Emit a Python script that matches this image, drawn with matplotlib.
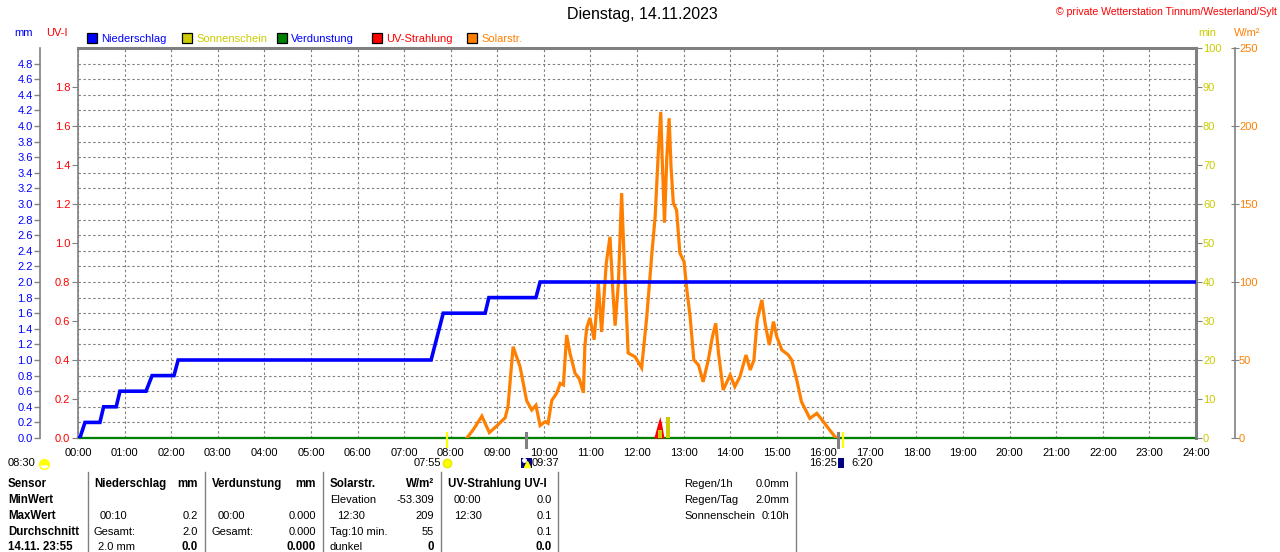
import matplotlib
matplotlib.use("Agg")
import matplotlib.pyplot as plt
from matplotlib.patches import Rectangle
from matplotlib.markers import MarkerStyle

plt.rcParams['font.family'] = ['Liberation Sans', 'DejaVu Sans']

# ---------------- data ----------------
hours = list(range(0, 25))
hour_labels = [f"{h:02d}:00" for h in hours]

precip_time = [0, 0.04, 0.15, 0.47, 0.55, 0.82, 0.90, 1.46, 1.59, 2.06, 2.15,
               7.58, 7.84, 8.74, 8.82, 9.83, 9.92, 24]
precip_mm = [0, 0, 0.2, 0.2, 0.4, 0.4, 0.6, 0.6, 0.8, 0.8, 1.0,
             1.0, 1.6, 1.6, 1.8, 1.8, 2.0, 2.0]

solar_time = [8.35, 8.50, 8.67, 8.83, 9.00, 9.17, 9.23, 9.34, 9.49, 9.63, 9.74,
              9.83, 9.92, 10.03, 10.09, 10.17, 10.28, 10.35, 10.42, 10.49, 10.56,
              10.67, 10.76, 10.85, 10.88, 10.92, 10.99, 11.08, 11.13, 11.17, 11.24,
              11.34, 11.42, 11.48, 11.53, 11.60, 11.67, 11.73, 11.81, 11.96, 12.10,
              12.21, 12.32, 12.39, 12.46, 12.51, 12.54, 12.59, 12.64, 12.69, 12.73,
              12.78, 12.85, 12.92, 13.01, 13.07, 13.14, 13.22, 13.32, 13.42, 13.53,
              13.62, 13.69, 13.75, 13.85, 14.00, 14.10, 14.21, 14.34, 14.43, 14.51,
              14.58, 14.68, 14.75, 14.84, 14.93, 15.00, 15.11, 15.25, 15.32, 15.43,
              15.53, 15.71, 15.86, 16.00, 16.14, 16.25, 16.30]
solar_w = [0, 6, 14, 3.5, 8, 13, 20, 58.5, 45.7, 24, 18,
           21, 8, 10.5, 9.4, 24, 29, 35, 34, 66, 54.5,
           41.5, 38, 29, 58.5, 70.5, 77, 63, 82, 99, 68,
           112, 129, 95, 72, 99, 157, 110, 54.5, 52, 45,
           77.8, 118.6, 142, 184.6, 209, 180, 138, 180, 205, 174,
           150.6, 146, 118.6, 113, 95, 77.8, 50, 46.8, 36, 50,
           65, 73.5, 54.3, 30.8, 40.4, 32.9, 39.3, 53.2, 43.6, 50,
           75.6, 88.5, 73.5, 59.6, 74.6, 65, 56.4, 53.2, 50, 37.2,
           23.3, 12.6, 15.8, 10.5, 5, 0.8, 0]

uv_time = [12.36, 12.44, 12.49, 12.53, 12.58]
uv_index = [0, 0.07, 0.11, 0.07, 0]

sun_time = [12.49, 12.67]
sun_min = [2.0, 5.5]

evap_time = [0, 24]
evap_mm = [0, 0]

sunrise = 7 + 55 / 60
moon_a = 9 + 37 / 60
moon_b = 16 + 19 / 60
sunset = 16 + 25 / 60

mm_ticks = [round(0.2 * i, 1) for i in range(25)]
uv_ticks = [round(0.2 * i, 1) for i in range(10)]
min_ticks = list(range(0, 101, 10))
w_ticks = list(range(0, 251, 50))

BLUE = '#0000FF'
ORANGE = '#FF8000'
RED = '#FF0000'
OLIVE = '#CCCC00'
GREEN = '#008000'
GRAY = '#808080'
NAVY = '#000080'

W, H = 1280, 552
fig = plt.figure(figsize=(12.8, 5.52), dpi=100)
fig.patch.set_facecolor('white')

L, R, T, B = 78, 1196, 48, 438
ax = fig.add_axes([L / W, (H - B) / H, (R - L) / W, (B - T) / H])
ax.spines['left'].set_position(('outward', 27.5))
ax.set_xlim(0, 24)
ax.set_ylim(0, 5)
ax.set_xticks(hours)
ax.set_xticklabels(hour_labels, fontsize=8)
ax.tick_params(axis='x', length=0, pad=7)
ax.set_yticks(mm_ticks)
ax.set_yticklabels([f"{v:.1f}" for v in mm_ticks], fontsize=8, color=BLUE)
ax.tick_params(axis='y', length=4, color=GRAY, pad=1, width=1)
for s in ['left', 'top', 'right', 'bottom']:
    ax.spines[s].set_color(GRAY)
ax.spines['left'].set_linewidth(1.2)
ax.spines['top'].set_linewidth(2.2)
ax.spines['right'].set_linewidth(2.2)
ax.spines['bottom'].set_linewidth(1.5)
ax.grid(True, color=GRAY, linestyle=(0, (2.2, 2.2)), linewidth=0.8)
ax.plot(evap_time, evap_mm, color=GREEN, lw=1.6, zorder=5, clip_on=False)

# UV axis (left, at plot border)
ax_uv = ax.twinx()
ax_uv.set_ylim(0, 2)
ax_uv.yaxis.tick_left()
ax_uv.set_yticks(uv_ticks)
ax_uv.set_yticklabels([f"{v:.1f}" for v in uv_ticks], fontsize=8, color=RED)
ax_uv.tick_params(axis='y', length=4.5, color=GRAY, pad=1)
for s in ['right', 'top', 'bottom']:
    ax_uv.spines[s].set_visible(False)
ax_uv.spines['left'].set_color(GRAY)
ax_uv.spines['left'].set_linewidth(1.2)
ax_uv.fill_between(uv_time, uv_index, color=RED, lw=0)

# sunshine minutes axis (right)
ax_min = ax.twinx()
ax_min.set_ylim(0, 100)
ax_min.set_yticks(min_ticks)
ax_min.set_yticklabels([str(v) for v in min_ticks], fontsize=8, color=OLIVE)
ax_min.tick_params(axis='y', length=4, color=GRAY, pad=1)
for s in ['left', 'top', 'bottom']:
    ax_min.spines[s].set_visible(False)
ax_min.spines['right'].set_color(GRAY)
ax_min.spines['right'].set_linewidth(1.2)
ax_min.bar(sun_time, sun_min, width=0.075, color=OLIVE, lw=0)

# solar radiation axis (far right)
ax_w = ax.twinx()
ax_w.spines['right'].set_position(('outward', 28))
ax_w.set_ylim(0, 250)
ax_w.set_yticks(w_ticks)
ax_w.set_yticklabels([str(v) for v in w_ticks], fontsize=8, color=ORANGE)
ax_w.tick_params(axis='y', length=6, direction='inout', color=GRAY, pad=0)
for s in ['left', 'top', 'bottom']:
    ax_w.spines[s].set_visible(False)
ax_w.spines['right'].set_color(GRAY)
ax_w.spines['right'].set_linewidth(1.2)
ax_w.plot(solar_time, solar_w, color=ORANGE, lw=2.3, solid_joinstyle='miter')

# precipitation on top
ax_p = ax.twinx()
ax_p.set_ylim(0, 5)
ax_p.set_yticks([])
for s in ax_p.spines.values():
    s.set_visible(False)
ax_p.plot(precip_time, precip_mm, color=BLUE, lw=2.6, solid_joinstyle='miter')

# sun/moon marker ticks under the axis
for t, c, lw in [(sunrise, '#FFFF00', 1.6), (moon_a, GRAY, 2.2),
                 (moon_b, GRAY, 2.2), (sunset, '#FFFF00', 1.6)]:
    ax_p.plot([t, t], [0.07, -0.12], color=c, lw=lw, clip_on=False)

# ---------------- overlay texts ----------------
ov = fig.add_axes([0, 0, 1, 1])
ov.set_xlim(0, W)
ov.set_ylim(H, 0)
ov.axis('off')
ov.patch.set_visible(False)

ov.text(642, 15, "Dienstag, 14.11.2023", fontsize=11.5, ha='center', va='center')
ov.text(1277, 12, "© private Wetterstation Tinnum/Westerland/Sylt", fontsize=7.6,
        color=RED, ha='right', va='center')
ov.text(14, 33, "mm", fontsize=8, color=BLUE, va='center')
ov.text(46, 33, "UV-I", fontsize=8, color=RED, va='center')
ov.text(1198, 33, "min", fontsize=8, color=OLIVE, va='center')
ov.text(1234, 33, "W/m²", fontsize=8, color=ORANGE, va='center')

legend = [(87, BLUE, "Niederschlag", BLUE),
          (182, OLIVE, "Sonnenschein", OLIVE),
          (277, GREEN, "Verdunstung", BLUE),
          (372, RED, "UV-Strahlung", RED),
          (467, ORANGE, "Solarstr.", ORANGE)]
for x, fc, txt, tc in legend:
    ov.add_patch(Rectangle((x, 33), 9.5, 9.5, facecolor=fc, edgecolor='black', lw=0.9))
    ov.text(x + 14, 38.5, txt, fontsize=8, color=tc, va='center')

# sun / moon annotations
ov.text(8, 463, "08:30", fontsize=8, va='center')
ov.plot([44], [464], marker=MarkerStyle('o', fillstyle='top'), markersize=7,
        markerfacecolor='#FFFF00', markerfacecoloralt='none', markeredgecolor='#FFFF00')
ov.text(441, 463, "07:55", fontsize=8, va='center', ha='right')
ov.plot([447], [463], marker='o', markersize=6, color='#FFFF00', markeredgecolor='#E8E800')
ov.add_patch(Rectangle((521, 458), 11, 10, facecolor=NAVY, edgecolor='none'))
ov.plot([527], [464], marker='^', markersize=4, color='#FFFF00')
ov.plot([523.5], [460], marker='o', markersize=2.5, color='white')
ov.text(532, 463, "09:37", fontsize=8, va='center')
ov.text(837, 463, "16:25", fontsize=8, va='center', ha='right')
ov.add_patch(Rectangle((838, 458), 6, 10, facecolor=NAVY, edgecolor='none'))
ov.text(851, 463, "6:20", fontsize=8, va='center')

# table separators
for x in [88, 205, 323, 441, 558, 796]:
    ov.plot([x, x], [472, 552], color=GRAY, lw=1)

rows_y = [484, 500, 516, 532, 547]
BF = 8.3
NF = 8
def t(x, y, s, bold=False, ha='left'):
    ov.text(x, y, s, fontsize=BF if bold else NF, fontweight='bold' if bold else 'normal',
            ha=ha, va='center')

for y, s in zip(rows_y, ["Sensor", "MinWert", "MaxWert", "Durchschnitt", "14.11. 23:55"]):
    t(8, y, s, bold=True)

t(94, rows_y[0], "Niederschlag", bold=True)
t(198, rows_y[0], "mm", bold=True, ha='right')
t(100, rows_y[2], "00:10"); t(198, rows_y[2], "0.2", ha='right')
t(94, rows_y[3], "Gesamt:"); t(198, rows_y[3], "2.0", ha='right')
t(98, rows_y[4], "2.0 mm"); t(198, rows_y[4], "0.0", bold=True, ha='right')

t(212, rows_y[0], "Verdunstung", bold=True)
t(316, rows_y[0], "mm", bold=True, ha='right')
t(218, rows_y[2], "00:00"); t(316, rows_y[2], "0.000", ha='right')
t(212, rows_y[3], "Gesamt:"); t(316, rows_y[3], "0.000", ha='right')
t(316, rows_y[4], "0.000", bold=True, ha='right')

t(330, rows_y[0], "Solarstr.", bold=True)
t(434, rows_y[0], "W/m²", bold=True, ha='right')
t(330, rows_y[1], "Elevation"); t(434, rows_y[1], "-53.309", ha='right')
t(337, rows_y[2], "12:30"); t(434, rows_y[2], "209", ha='right')
t(330, rows_y[3], "Tag:10 min."); t(434, rows_y[3], "55", ha='right')
t(330, rows_y[4], "dunkel"); t(434, rows_y[4], "0", bold=True, ha='right')

t(448, rows_y[0], "UV-Strahlung UV-I", bold=True)
t(454, rows_y[1], "00:00"); t(552, rows_y[1], "0.0", ha='right')
t(454, rows_y[2], "12:30"); t(552, rows_y[2], "0.1", ha='right')
t(552, rows_y[3], "0.1", ha='right')
t(552, rows_y[4], "0.0", bold=True, ha='right')

t(684, rows_y[0], "Regen/1h"); t(789, rows_y[0], "0.0mm", ha='right')
t(684, rows_y[1], "Regen/Tag"); t(789, rows_y[1], "2.0mm", ha='right')
t(684, rows_y[2], "Sonnenschein"); t(789, rows_y[2], "0:10h", ha='right')

fig.savefig("out.png", dpi=100)
